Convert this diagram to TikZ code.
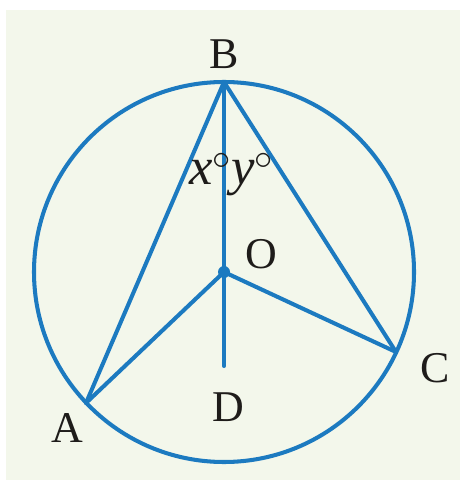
\documentclass[tikz,border=0pt]{standalone}
\usepackage{fontspec}
\setmainfont{Liberation Serif}
\usetikzlibrary{positioning}
\definecolor{geoblue}{RGB}{28,122,192}
\definecolor{paper}{RGB}{243,247,235}
\definecolor{inkdark}{RGB}{30,28,26}

\begin{document}
\begin{tikzpicture}[x=0.02cm,y=-0.02cm,
  edge/.style={draw=geoblue, line width=2.3pt, line cap=round, line join=round},
  lbl/.style={font=\fontsize{25}{28}\selectfont, text=inkdark, inner sep=0pt, anchor=base},
  anglbl/.style={lbl, font=\fontsize{30}{32}\selectfont}]
\useasboundingbox (0,0) rectangle (461,482);
\fill[paper] (6,10) rectangle (460,480);
% points
\coordinate (O) at (224,272);
\coordinate (B) at (224,82);
\coordinate (A) at (86,403);
\coordinate (C) at (396,352);
\coordinate (D) at (224,366);
% circle and chords
\draw[edge] (O) circle[radius=190];
\draw[edge] (A) -- (B) -- (C);
\draw[edge] (B) -- (D);
\draw[edge] (A) -- (O) -- (C);
\fill[geoblue] (O) circle[radius=6];
% labels
\node[lbl] (labB) at (224,69) {B};
\node[lbl] (labA) at (67,442) {A};
\node[lbl] (labC) at (435,382) {C};
\node[lbl] (labD) at (228,421) {D};
\node[lbl] (labO) at (261,268) {O};
\node[anglbl, anchor=base east] (angx) at (232,185) {\textit{x}$^{\circ}$};
\node[anglbl, anchor=base west] (angy) at (231,185) {\textit{y}$^{\circ}$};
\end{tikzpicture}
\end{document}
